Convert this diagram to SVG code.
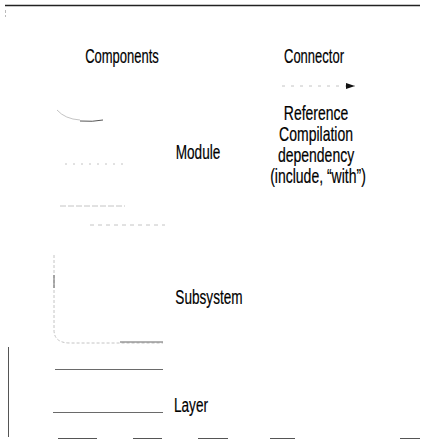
<svg xmlns="http://www.w3.org/2000/svg" width="422" height="441" viewBox="0 0 422 441">
<style>
.t{font-family:"Liberation Sans","DejaVu Sans",sans-serif;font-size:20px;fill:#000;stroke:#000;stroke-width:0.2;}
.f{fill:none;stroke:#c4c4c4;stroke-width:1;}
.d{fill:none;stroke:#555;stroke-width:1;}
</style>
<defs>
<marker id="ah" markerWidth="9" markerHeight="6" refX="9" refY="3" orient="auto" markerUnits="userSpaceOnUse">
<path d="M0,0 L9,3 L0,6 Z" fill="#111"/>
</marker>
</defs>
<rect width="422" height="441" fill="#fff"/>
<g id="frame">
<path d="M5 5.5 H420" stroke="#222" stroke-width="1.4" fill="none"/>
<path d="M5.5 10 V13 M5.5 15 V17" stroke="#bbb" fill="none"/>
</g>
<g id="headers">
<text class="t" x="122" y="63" text-anchor="middle" transform="translate(122 0) scale(0.65 1) translate(-122 0)">Components</text>
<text class="t" x="314" y="63" text-anchor="middle" transform="translate(314 0) scale(0.65 1) translate(-314 0)">Connector</text>
</g>
<g id="module">
<path class="f" d="M57 110 Q65 119 80 120"/>
<path class="d" d="M80 121 Q93 122 103 120" stroke="#777"/>
<path class="f" d="M65 164 H125" stroke-dasharray="2 6"/>
<path class="f" d="M60 206 H125" stroke-dasharray="6 2"/>
<path class="f" d="M90 225 H165" stroke-dasharray="4 4"/>
<text class="t" x="198" y="159" text-anchor="middle" transform="translate(198 0) scale(0.68 1) translate(-198 0)">Module</text>
</g>
<g id="subsystem">
<path class="f" d="M54 255 V330 Q54 343 70 343 H163" stroke="#999" stroke-dasharray="3 2"/>
<path d="M54 275 V288 M120 342 H163" stroke="#666" stroke-width="1" fill="none"/>
<text class="t" x="209" y="304" text-anchor="middle" transform="translate(209 0) scale(0.68 1) translate(-209 0)">Subsystem</text>
</g>
<g id="layer">
<path d="M8.5 347 V437" stroke="#555" fill="none"/>
<path d="M55 369.5 H163" stroke="#444" fill="none" stroke-width="0.8"/>
<path d="M53 412.5 H163" stroke="#444" fill="none" stroke-width="0.8"/>
<path d="M58 438.5 H97 M133 438.5 H162 M198 438.5 H228 M270 438.5 H295 M400 438.5 H420" stroke="#555" fill="none"/>
<text class="t" x="191" y="412" text-anchor="middle" transform="translate(191 0) scale(0.68 1) translate(-191 0)">Layer</text>
</g>
<g id="connectors">
<path d="M282 86 H355" stroke="#c4c4c4" stroke-dasharray="3 6" fill="none" marker-end="url(#ah)"/>
<text class="t" text-anchor="middle" transform="translate(318 0) scale(0.7 1) translate(-318 0)">
<tspan x="318" y="120">Reference</tspan>
<tspan x="318" y="141">Compilation</tspan>
<tspan x="318" y="162">dependency</tspan>
<tspan x="318" y="183">(include, “with”)</tspan>
</text>
</g>
</svg>
